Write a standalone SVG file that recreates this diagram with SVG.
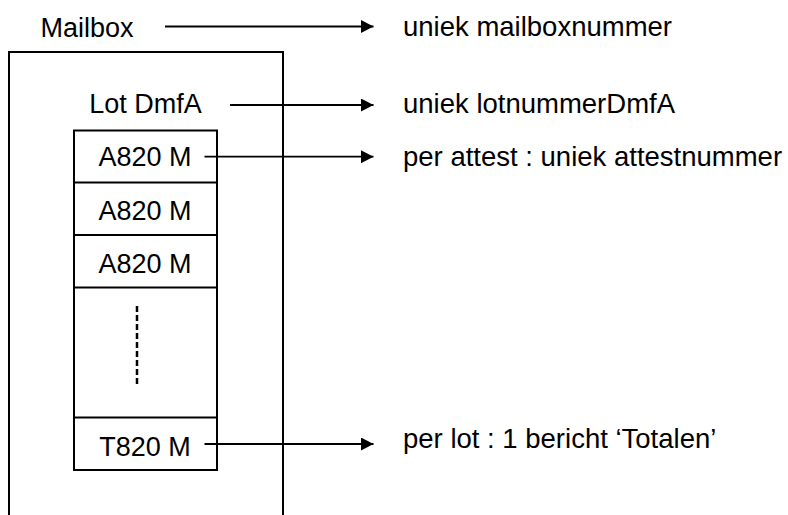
<svg xmlns="http://www.w3.org/2000/svg" width="788" height="515" viewBox="0 0 788 515">
<style>
text{font-family:"Liberation Sans",Arial,sans-serif;font-size:27px;fill:#000}
#labels text{font-size:27.5px}
.box{fill:none;stroke:#000;stroke-width:2}
.arr{fill:none;stroke:#000;stroke-width:1.8}
.mid{text-anchor:middle}
</style>
<defs>
<marker id="ah" markerUnits="userSpaceOnUse" markerWidth="13" markerHeight="14" refX="12.5" refY="6.5" orient="auto">
<path d="M0,0 L12.5,6.5 L0,13 Z" fill="#000"/>
</marker>
</defs>
<rect width="788" height="515" fill="#fff"/>
<g id="mailbox">
<path class="box" d="M9,520 V52 H283 V520"/>
<text x="40.5" y="36.5">Mailbox</text>
</g>
<g id="lot">
<text class="mid" x="145.5" y="113">Lot DmfA</text>
</g>
<g id="stack">
<rect class="box" x="74" y="130.5" width="143" height="339.5"/>
<line class="box" x1="74" y1="182.5" x2="217" y2="182.5"/>
<line class="box" x1="74" y1="235" x2="217" y2="235"/>
<line class="box" x1="74" y1="287.5" x2="217" y2="287.5"/>
<line class="box" x1="74" y1="417.5" x2="217" y2="417.5"/>
<text class="mid" x="145" y="166">A820 M</text>
<text class="mid" x="145" y="220">A820 M</text>
<text class="mid" x="145" y="272.5">A820 M</text>
<line x1="137" y1="306" x2="137" y2="387" stroke="#000" stroke-width="2.5" stroke-dasharray="6,3"/>
<text class="mid" x="145" y="456">T820 M</text>
</g>
<g id="labels">
<text x="403" y="36">uniek mailboxnummer</text>
<text x="403" y="113">uniek lotnummerDmfA</text>
<text x="403" y="165.5">per attest : uniek attestnummer</text>
<text x="403" y="448">per lot : 1 bericht ‘Totalen’</text>
</g>
<g id="connectors">
<line class="arr" x1="165" y1="26.5" x2="373.5" y2="26.5" marker-end="url(#ah)"/>
<line class="arr" x1="230" y1="105" x2="373.5" y2="105" marker-end="url(#ah)"/>
<line class="arr" x1="204.5" y1="156.7" x2="373.5" y2="156.7" marker-end="url(#ah)"/>
<line class="arr" x1="204.5" y1="444" x2="373.5" y2="444" marker-end="url(#ah)"/>
</g>
</svg>
